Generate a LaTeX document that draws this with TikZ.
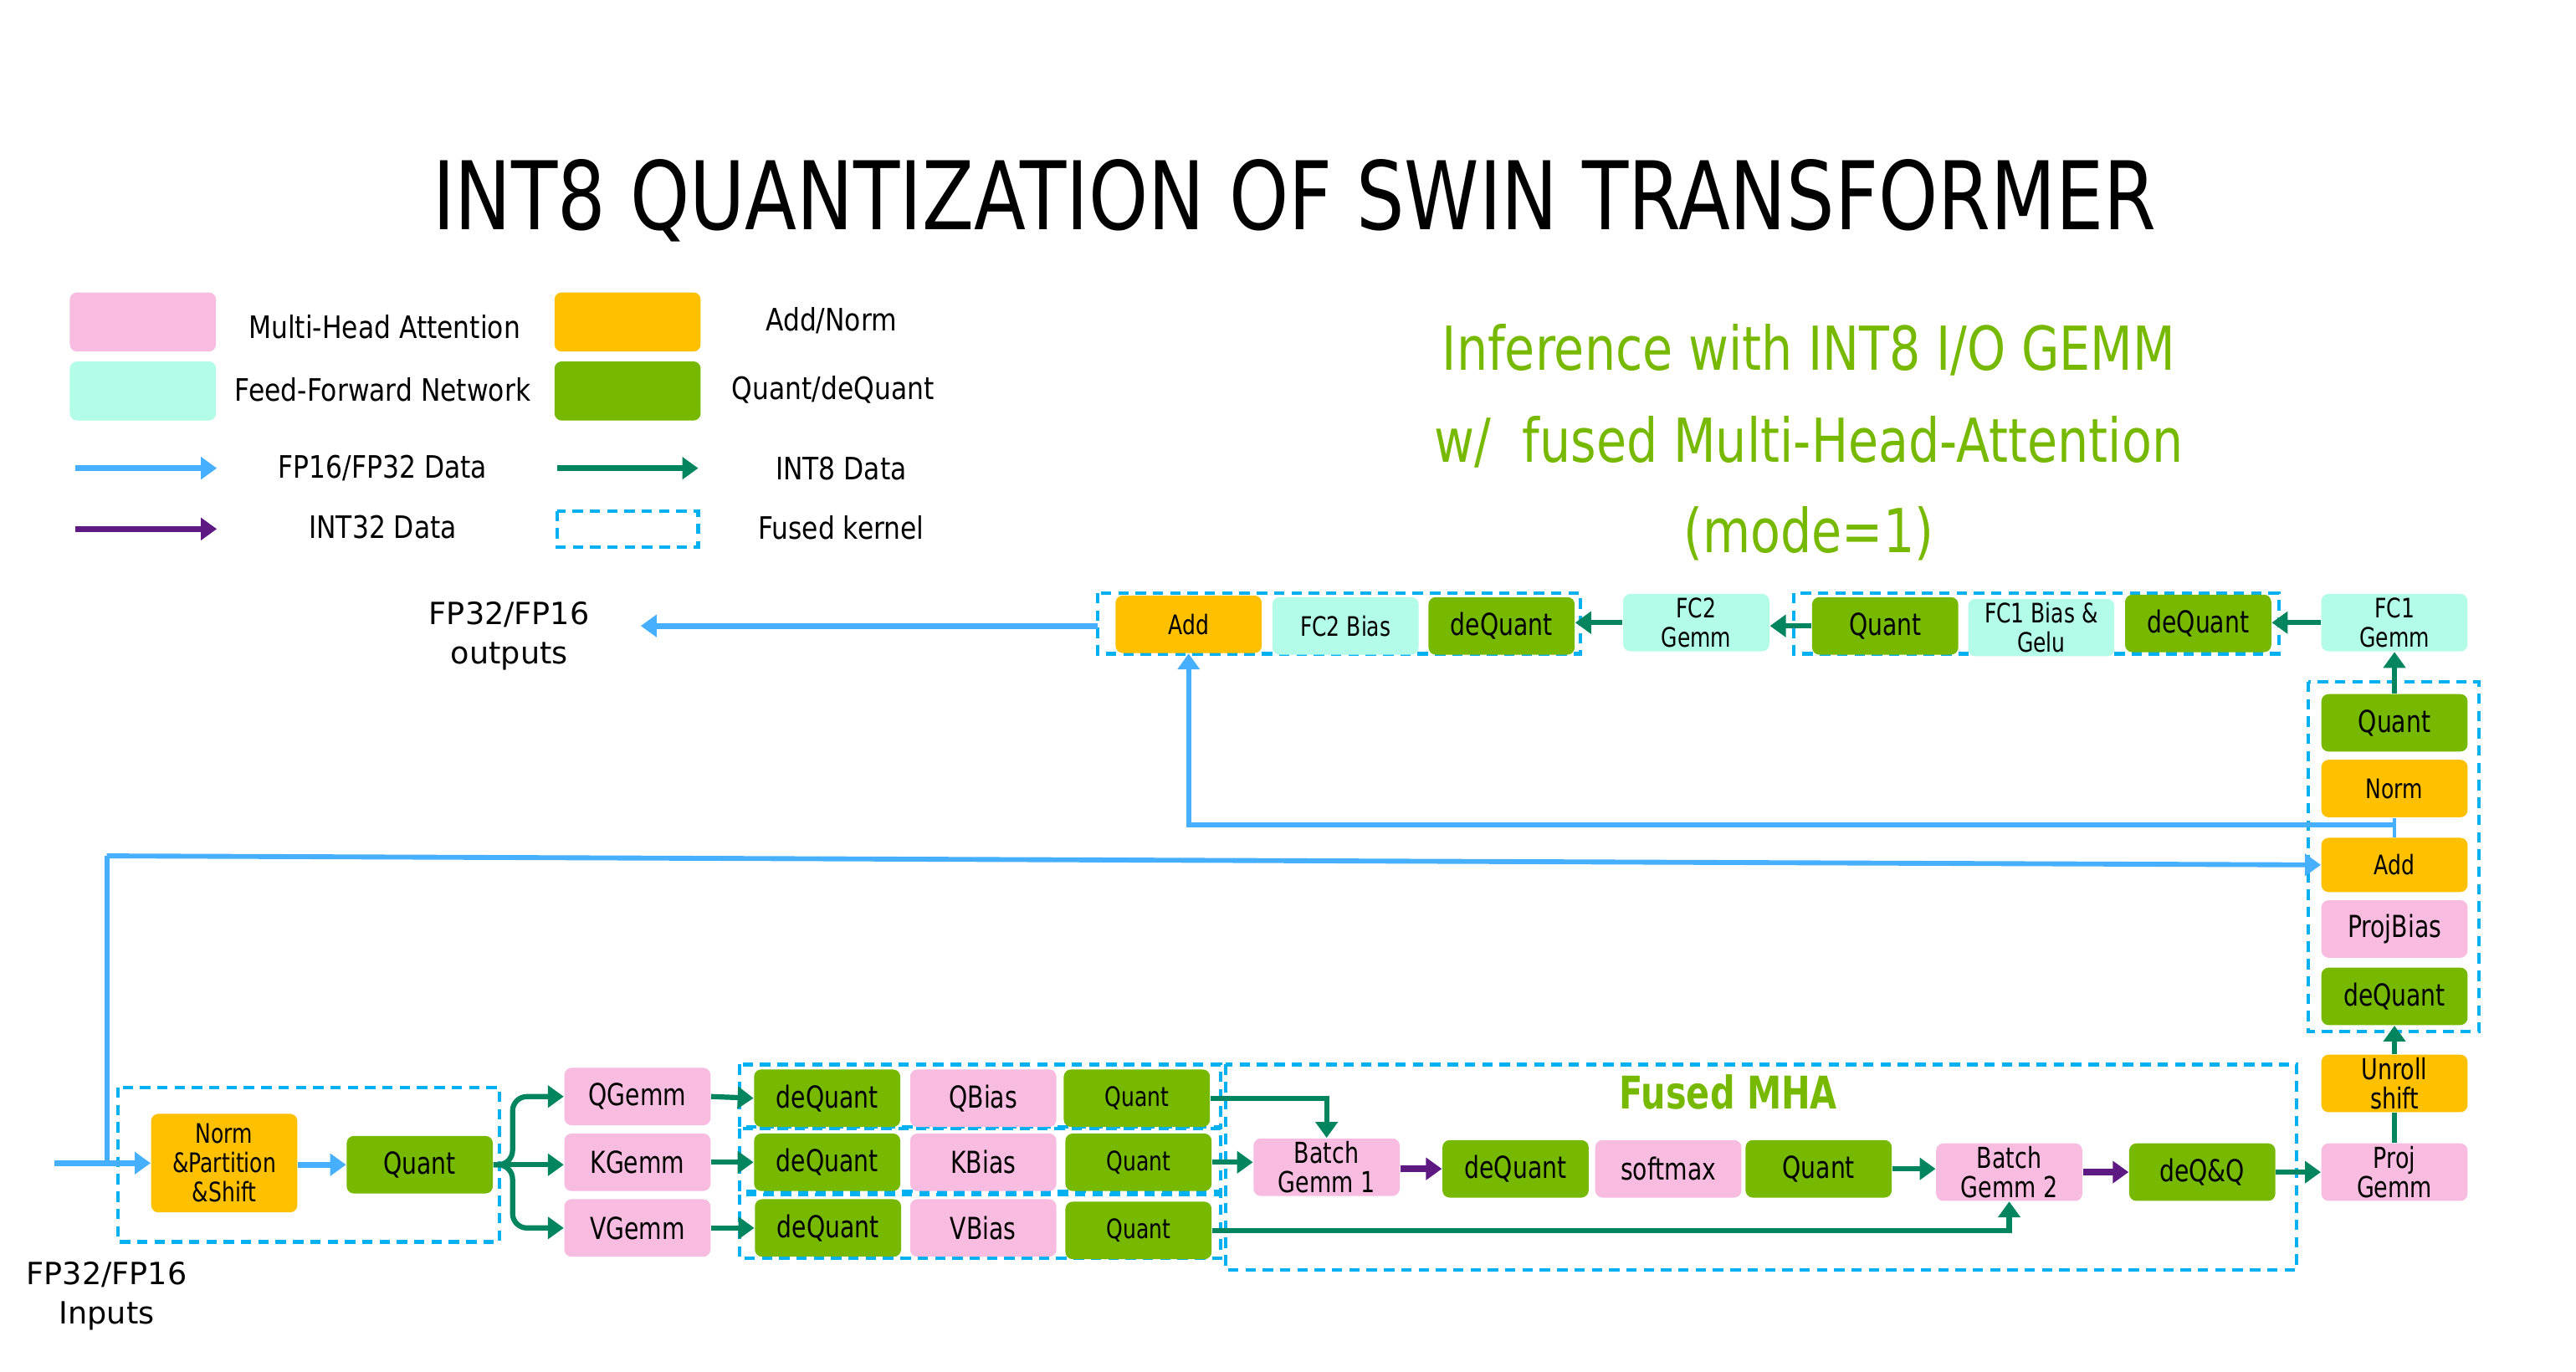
\documentclass[tikz,border=0pt]{standalone}
\usepackage{fontspec}
\usepackage{graphicx}
\setmainfont{DejaVu Sans}
\newfontfamily\labfont{DejaVu Sans}[FakeStretch=0.78]
\newfontfamily\titlefont{DejaVu Sans}[FakeStretch=0.8]
\newfontfamily\headfont{DejaVu Sans}[FakeStretch=0.81]
\newfontfamily\legfont{DejaVu Sans}[FakeStretch=0.85]
\newfontfamily\mhafont{DejaVu Sans}[FakeStretch=0.77]
\usetikzlibrary{arrows.meta}
\definecolor{mhapink}{HTML}{F8BCE0}
\definecolor{addorange}{HTML}{FFC000}
\definecolor{ffncyan}{HTML}{B2FCE8}
\definecolor{qgreen}{HTML}{76B900}
\definecolor{fpblue}{HTML}{47AFFF}
\definecolor{ieteal}{HTML}{00855F}
\definecolor{itpurple}{HTML}{5E1A82}
\definecolor{fusedcyan}{HTML}{00B0F0}
\tikzset{
 box/.style={rounded corners=2.5pt, minimum width=1.78cm, minimum height=0.7cm, inner sep=1pt, align=center, font=\labfont\fontsize{10.5}{10.4}\selectfont},
 sm/.style={font=\labfont\fontsize{9.3}{10.2}\selectfont},
 md/.style={font=\labfont\fontsize{10}{10.2}\selectfont},
 pinkbox/.style={box, fill=mhapink},
 orangebox/.style={box, fill=addorange},
 cyanbox/.style={box, fill=ffncyan},
 greenbox/.style={box, fill=qgreen},
 fused/.style={draw=fusedcyan, line width=1.2pt, dash pattern=on 3.6pt off 2.4pt},
 tip/.style={-{Triangle[length=5.5pt,width=7.5pt]}},
 fp/.style={draw=fpblue, line width=2pt, tip},
 fplong/.style={draw=fpblue, line width=1.7pt},
 fpthin/.style={draw=fpblue, line width=1.1pt},
 ie/.style={draw=ieteal, line width=1.8pt, tip},
 ieline/.style={draw=ieteal, line width=1.8pt},
 it/.style={draw=itpurple, line width=2.2pt, tip},
 legtxt/.style={font=\legfont\fontsize{10.7}{12}\selectfont, inner sep=0pt},
 iotxt/.style={font=\fontsize{10.6}{13.7}\selectfont, align=center, inner sep=0pt},
 headtxt/.style={font=\headfont\fontsize{21}{24}\selectfont, text=qgreen, inner sep=0pt},
}
\begin{document}
\begin{tikzpicture}[x=0.02cm, y=-0.02cm]
\useasboundingbox (0,0) rectangle (1568,835);

% title
\node[font=\titlefont\fontsize{32.8}{36}\selectfont, inner sep=0pt] (title) at (788,122) {INT8 QUANTIZATION OF SWIN TRANSFORMER};

% legend
\node[pinkbox, minimum height=0.72cm] (lgpink) at (87,196) {};
\node[orangebox, minimum height=0.72cm] (lgorange) at (382,196) {};
\node[cyanbox, minimum height=0.72cm] (lgcyan) at (87,238) {};
\node[greenbox, minimum height=0.72cm] (lggreen) at (382,238) {};
\node[legtxt] (lgt1) at (234,199) {Multi-Head Attention};
\node[legtxt] (lgt2) at (506,195) {Add/Norm};
\node[legtxt] (lgt3) at (233,237) {Feed-Forward Network};
\node[legtxt] (lgt4) at (507,237) {Quant/deQuant};
\node[legtxt] (lgt5) at (233,285) {FP16/FP32 Data};
\node[legtxt] (lgt6) at (512,285) {INT8 Data};
\node[legtxt] (lgt7) at (233,321) {INT32 Data};
\node[legtxt] (lgt8) at (512,321) {Fused kernel};
\coordinate (la1) at (46,285); \coordinate (lb1) at (132,285);
\coordinate (la2) at (339,285); \coordinate (lb2) at (425,285);
\coordinate (la3) at (46,322); \coordinate (lb3) at (132,322);
\draw[fp] (la1) -- (lb1);
\draw[ie, line width=2pt] (la2) -- (lb2);
\draw[it, line width=2pt] (la3) -- (lb3);
\draw[fused] (339,311) rectangle (425,333);

% heading
\node[headtxt] (h1) at (1101,213) {Inference with INT8 I/O GEMM};
\node[headtxt] (h2) at (1101,269) {w/\ \ fused Multi-Head-Attention};
\node[headtxt] (h3) at (1101,325) {(mode=1)};

% outputs
\node[iotxt] (outtxt) at (310,387) {FP32/FP16\\outputs};

% top row
\draw[fused] (668,361) rectangle (962,398);
\draw[fused] (1092,361) rectangle (1387,398);
\node[orangebox, sm] (tAdd) at (723.5,380) {Add};
\node[cyanbox, sm] (tFCb) at (819,381) {FC2 Bias};
\node[greenbox] (tDeq) at (914,381) {deQuant};
\node[cyanbox, sm] (tFCg) at (1032.5,379) {FC2\\Gemm};
\node[greenbox] (tQ) at (1147.5,381) {Quant};
\node[cyanbox, sm] (tFCob) at (1242.5,382) {FC1 Bias \&\\Gelu};
\node[greenbox] (tDeqb) at (1338,379.5) {deQuant};
\node[cyanbox, sm] (tFCog) at (1457.5,379) {FC1\\Gemm};
\draw[ie] (tFCog.west) -- (tFCog.west -| tDeqb.east);
\draw[ie] (tQ.west) -- (tQ.west -| tFCg.east);
\draw[ie] (tFCg.west) -- (tFCg.west -| tDeq.east);
\coordinate (outS) at (668,381);
\coordinate (outEnd) at (390,381);
\draw[fp] (outS) -- (outEnd);

% right column
\draw[fused] (1405,415) rectangle (1509,628);
\node[greenbox] (cQuant) at (1457.5,440) {Quant};
\node[orangebox, sm] (cNorm) at (1457.5,480) {Norm};
\node[orangebox, sm, minimum height=0.66cm] (cAdd) at (1457.5,526.5) {Add};
\node[pinkbox] (cProjB) at (1457.5,565.5) {ProjBias};
\node[greenbox] (cDeq) at (1457.5,606.5) {deQuant};
\node[orangebox, md] (unroll) at (1457.5,659.5) {Unroll\\shift};
\node[pinkbox, md] (projg) at (1457.5,713.5) {Proj\\Gemm};
\draw[ie] (cQuant.north) -- (tFCog.south);
\draw[fpthin] (cNorm.south) -- (cAdd.north);
\coordinate (jR) at (1457.5,502);
\draw[fplong, tip] (jR) -| (tAdd.south);
\draw[ieline] (projg.north) -- (unroll.south);
\draw[ie] (unroll.north) -- (cDeq.south);

% inputs
\draw[fused] (72,662) rectangle (304,756);
\node[orangebox, sm, minimum height=1.2cm] (inNorm) at (136.5,708) {Norm\\\&Partition\\\&Shift};
\node[greenbox] (bQuant) at (255.5,709) {Quant};
\node[iotxt] (intxt) at (65,789) {FP32/FP16\\Inputs};
\coordinate (inS) at (33,708);
\coordinate (jin) at (65,708);
\coordinate (tl) at (65,521);
\draw[fp] (inS) -- (inS -| inNorm.west);
\draw[fplong] (jin) -- (tl);
\draw[fplong, tip] (tl) -- (cAdd.west);
\draw[fp] (inNorm.east |- bQuant) -- (bQuant.west);

% Q K V gemms
\node[pinkbox] (qgemm) at (388,667.5) {QGemm};
\node[pinkbox] (kgemm) at (388,707.5) {KGemm};
\node[pinkbox] (vgemm) at (388,747.5) {VGemm};
\coordinate (br) at (312,709);
\draw[ie, rounded corners=5pt] (bQuant.east) -- (br) |- (qgemm.west);
\draw[ie, rounded corners=5pt] (bQuant.east) -- (br) |- (vgemm.west);
\draw[ie] (bQuant.east) -- (bQuant.east -| kgemm.west);

% bias kernels
\draw[fused] (450,648) rectangle (743,686);
\draw[fused] (450,687) rectangle (743,725);
\draw[fused] (450,727) rectangle (743,766);
\node[greenbox] (qDeq) at (503.5,668.5) {deQuant};
\node[pinkbox] (qBias) at (598.5,668.5) {QBias};
\node[greenbox, sm] (qQuant) at (692,668.5) {Quant};
\node[greenbox] (kDeq) at (503.5,707.5) {deQuant};
\node[pinkbox] (kBias) at (598.5,707.5) {KBias};
\node[greenbox, sm] (kQuant) at (693,707.5) {Quant};
\node[greenbox] (vDeq) at (504,747.5) {deQuant};
\node[pinkbox] (vBias) at (598.5,747.5) {VBias};
\node[greenbox, sm] (vQuant) at (693,749) {Quant};
\draw[ie] (qgemm.east) -- (qDeq.west);
\draw[ie] (kgemm.east) -- (kDeq.west);
\draw[ie] (vgemm.east) -- (vgemm.east -| vDeq.west);

% fused MHA
\draw[fused] (746,648) rectangle (1398,773);
\node[font=\mhafont\bfseries\fontsize{15.6}{18}\selectfont, text=qgreen, inner sep=0pt] (mhatxt) at (1052,665) {Fused MHA};
\node[pinkbox, md] (bg1) at (807.5,710.5) {Batch\\Gemm 1};
\node[greenbox] (mDeq) at (922.5,711.5) {deQuant};
\node[pinkbox] (smax) at (1015.5,711.5) {softmax};
\node[greenbox] (mQuant) at (1107,711.5) {Quant};
\node[pinkbox, md] (bg2) at (1223,713.5) {Batch\\Gemm 2};
\node[greenbox] (deqq) at (1340.5,713.5) {deQ\&Q};
\draw[ie] (qQuant.east) -| (bg1.north);
\draw[ie] (kQuant.east) -- (kQuant.east -| bg1.west);
\draw[ie] (vQuant.east) -| (bg2.south);
\draw[it] (bg1.east |- mDeq) -- (mDeq.west);
\draw[ie] (mQuant.east) -- (mQuant.east -| bg2.west);
\draw[it] (bg2.east) -- (deqq.west);
\draw[ie] (deqq.east) -- (projg.west);
\end{tikzpicture}
\end{document}
